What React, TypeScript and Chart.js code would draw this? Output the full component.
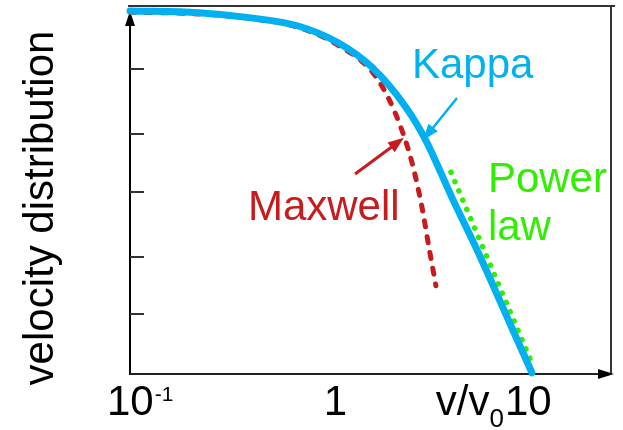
import { useEffect, useRef } from 'react';
import { Chart, registerables } from 'chart.js';

Chart.register(...registerables);

// Normalised speed v/v0 (log axis) and log of the distribution value.
const kappaV = [0.1, 0.22, 0.39, 0.69, 1.08, 1.59, 2.34, 2.94, 3.96, 5.39, 7.87, 9.89];
const kappaF = [-0.08, -0.11, -0.19, -0.33, -0.6, -1.0, -1.65, -2.19, -3.12, -4.04, -5.25, -5.98];

const maxwellV = [0.1, 0.22, 0.39, 0.69, 1.08, 1.59, 1.93, 2.24, 2.51, 2.81, 3.05, 3.3];
const maxwellF = [-0.1, -0.13, -0.2, -0.35, -0.64, -1.07, -1.52, -2.03, -2.55, -3.27, -3.94, -4.56];

const powerV = [3.92, 9.89];
const powerF = [-2.71, -5.82];

const xTickValues = [0.1, 1, 10];
const yTickValues = [-1.03, -2.09, -3.04, -4.09, -5.02];

const BLUE = '#00b0f0';
const RED = '#c81b1e';
const GREEN = '#30ee00';
const FONT = '"Liberation Sans", Arial, sans-serif';

// Curve names placed in data space
const curveLabels = [
  { text: 'Kappa', v: 2.51, f: -1.17, color: BLUE },
  { text: 'Maxwell', v: 0.385, f: -3.49, color: RED },
  { text: 'Power', v: 5.98, f: -3.03, color: GREEN },
  { text: 'law', v: 5.98, f: -3.815, color: GREEN },
];

// Pointer arrows: from (v0,f0) to tip (v1,f1)
const pointers = [
  { v0: 4.2, f0: -1.5, v1: 2.85, f1: -2.185, color: BLUE, width: 2.5 },
  { v0: 1.31, f0: -2.74, v1: 2.29, f1: -2.15, color: RED, width: 3 },
];

function arrowHead(ctx: CanvasRenderingContext2D, x0: number, y0: number, x1: number, y1: number, len: number, half: number, color: string) {
  const a = Math.atan2(y1 - y0, x1 - x0);
  ctx.save();
  ctx.fillStyle = color;
  ctx.beginPath();
  ctx.moveTo(x1, y1);
  ctx.lineTo(x1 - len * Math.cos(a) + half * Math.sin(a), y1 - len * Math.sin(a) - half * Math.cos(a));
  ctx.lineTo(x1 - len * Math.cos(a) - half * Math.sin(a), y1 - len * Math.sin(a) + half * Math.cos(a));
  ctx.closePath();
  ctx.fill();
  ctx.restore();
}

const framePlugin = {
  id: 'frame',
  beforeDatasetsDraw(chart: any) {
    const { ctx, chartArea } = chart;
    const { left, right, top, bottom } = chartArea;
    const ys = chart.scales.y;
    ctx.save();
    ctx.lineCap = 'butt';
    // top and right border
    ctx.strokeStyle = '#333';
    ctx.lineWidth = 2;
    ctx.beginPath();
    ctx.moveTo(left - 2, top);
    ctx.lineTo(right + 3, top);
    ctx.moveTo(right - 1, top);
    ctx.lineTo(right - 1, bottom);
    ctx.stroke();
    // y axis with arrow
    ctx.strokeStyle = '#000';
    ctx.beginPath();
    ctx.moveTo(left, bottom + 1);
    ctx.lineTo(left, top + 16);
    ctx.stroke();
    arrowHead(ctx, left, bottom, left, top + 5, 15, 5, '#000');
    // x axis with arrow
    ctx.strokeStyle = '#222';
    ctx.beginPath();
    ctx.moveTo(left, bottom);
    ctx.lineTo(right - 10, bottom);
    ctx.stroke();
    arrowHead(ctx, left, bottom, right + 2, bottom, 16, 5, '#000');
    // inner y ticks
    ctx.strokeStyle = '#333';
    ctx.lineWidth = 2;
    for (const t of yTickValues) {
      const y = Math.round(ys.getPixelForValue(t));
      ctx.beginPath();
      ctx.moveTo(left, y);
      ctx.lineTo(left + 14, y);
      ctx.stroke();
    }
    ctx.restore();
  },
  afterDatasetsDraw(chart: any) {
    const { ctx, chartArea } = chart;
    const xs = chart.scales.x;
    const ys = chart.scales.y;
    ctx.save();
    ctx.textBaseline = 'alphabetic';

    // pointer arrows
    for (const p of pointers) {
      const x0 = xs.getPixelForValue(p.v0);
      const y0 = ys.getPixelForValue(p.f0);
      const x1 = xs.getPixelForValue(p.v1);
      const y1 = ys.getPixelForValue(p.f1);
      const a = Math.atan2(y1 - y0, x1 - x0);
      ctx.strokeStyle = p.color;
      ctx.lineWidth = p.width;
      ctx.lineCap = 'butt';
      ctx.beginPath();
      ctx.moveTo(x0, y0);
      ctx.lineTo(x1 - 12 * Math.cos(a), y1 - 12 * Math.sin(a));
      ctx.stroke();
      arrowHead(ctx, x0, y0, x1, y1, 16, 6, p.color);
    }

    // curve names
    ctx.font = `42px ${FONT}`;
    ctx.textAlign = 'left';
    for (const l of curveLabels) {
      ctx.fillStyle = l.color;
      ctx.fillText(l.text, xs.getPixelForValue(l.v), ys.getPixelForValue(l.f));
    }

    // x tick labels
    const base = chartArea.bottom + 41;
    ctx.fillStyle = '#000';
    const p0 = xs.getPixelForValue(xTickValues[0]);
    ctx.font = `42px ${FONT}`;
    ctx.textAlign = 'left';
    ctx.fillText('10', p0 - 23, base);
    const w10 = ctx.measureText('10').width;
    ctx.font = `21px ${FONT}`;
    ctx.fillText('-1', p0 - 23 + w10 + 1, base - 14);

    ctx.font = `42px ${FONT}`;
    ctx.textAlign = 'center';
    ctx.fillText('1', xs.getPixelForValue(xTickValues[1]) + 4, base);

    const p2 = xs.getPixelForValue(xTickValues[2]);
    ctx.textAlign = 'left';
    const tenLeft = p2 - 28;
    ctx.fillText('10', tenLeft, base);
    // axis title v/v0 just before the last tick label
    ctx.font = `26px ${FONT}`;
    const wSub = ctx.measureText('0').width;
    ctx.fillText('0', tenLeft - wSub - 1, base + 12);
    ctx.font = `42px ${FONT}`;
    const wvv = ctx.measureText('v/v').width;
    ctx.fillText('v/v', tenLeft - wSub - 1 - wvv, base);

    // y axis title
    ctx.translate(53, (chartArea.top + chartArea.bottom) / 2 + 18);
    ctx.rotate(-Math.PI / 2);
    ctx.textAlign = 'center';
    ctx.font = `42px ${FONT}`;
    ctx.fillText('velocity distribution', 0, 0);
    ctx.restore();
  },
};

function pts(xv: number[], yv: number[]) {
  return xv.map((x, i) => ({ x, y: yv[i] }));
}

export default function App() {
  const ref = useRef<HTMLCanvasElement>(null);
  useEffect(() => {
    document.body.style.margin = '0';
    const chart = new Chart(ref.current as HTMLCanvasElement, {
      type: 'line',
      data: {
        datasets: [
          {
            label: 'Kappa',
            data: pts(kappaV, kappaF),
            borderColor: BLUE,
            borderWidth: 7,
            pointRadius: 0,
            cubicInterpolationMode: 'monotone',
            borderCapStyle: 'round',
            borderJoinStyle: 'round',
            clip: false,
          },
          {
            label: 'Power law',
            data: pts(powerV, powerF),
            borderColor: GREEN,
            borderWidth: 5.5,
            pointRadius: 0,
            borderDash: [0.1, 10],
            borderCapStyle: 'round',
            clip: false,
          },
          {
            label: 'Maxwell',
            data: pts(maxwellV, maxwellF),
            borderColor: RED,
            borderWidth: 5,
            pointRadius: 0,
            cubicInterpolationMode: 'monotone',
            borderDash: [6, 10],
            borderCapStyle: 'round',
            clip: false,
          },
        ],
      },
      options: {
        animation: false,
        responsive: false,
        maintainAspectRatio: false,
        events: [],
        layout: { padding: { left: 130, right: 11, top: 6, bottom: 56 } },
        plugins: { legend: { display: false }, tooltip: { enabled: false } },
        scales: {
          x: { type: 'logarithmic', min: 0.1, max: 24.7, display: false },
          y: { type: 'linear', min: -6, max: 0, display: false },
        },
      },
      plugins: [framePlugin],
    } as any);
    return () => chart.destroy();
  }, []);
  return <canvas ref={ref} width={623} height={430} style={{ display: 'block' }} />;
}
